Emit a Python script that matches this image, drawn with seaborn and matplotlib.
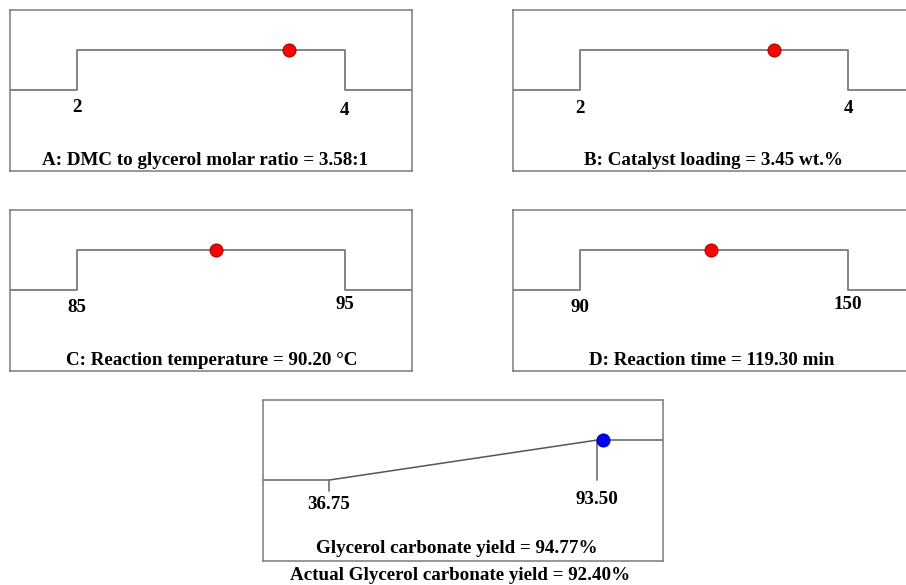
import numpy as np
import pandas as pd
import matplotlib
matplotlib.use("Agg")
import matplotlib.pyplot as plt
import seaborn as sns

sns.set_theme(style="white")
plt.rcParams['font.family'] = ['Liberation Serif', 'DejaVu Serif']
plt.rcParams['text.color'] = 'black'

# ---- data ----
factor_names = ["A: DMC to glycerol molar ratio", "B: Catalyst loading",
                "C: Reaction temperature", "D: Reaction time"]
factor_units = [":1", " wt.%", " \u00b0C", " min"]
factor_low = [2, 2, 85, 90]
factor_high = [4, 4, 95, 150]
factor_opt = [3.58, 3.45, 90.20, 119.30]
factor_low_lbl = ["2", "2", "85", "90"]
factor_high_lbl = ["4", "4", "95", "150"]

resp_name = "Glycerol carbonate yield"
resp_low = 36.75
resp_high = 93.50
resp_pred = 94.77
resp_actual = 92.40

GRAY = "#7a7a7a"
fig = plt.figure(figsize=(9.06, 5.85), dpi=100)
W, H = 906.0, 585.0

def make_ax(x0, y0, x1, y1):
    ax = fig.add_axes([x0 / W, 1 - y1 / H, (x1 - x0) / W, (y1 - y0) / H])
    for s in ax.spines.values():
        s.set_color(GRAY)
        s.set_linewidth(1.1)
    ax.set_xticks([])
    ax.set_yticks([])
    return ax

boxes = [(10, 10, 412, 171), (513, 10, 915, 171),
         (10, 210, 412, 371), (513, 210, 915, 371)]
title_x = [0.485, 0.498, 0.502, 0.495]
low_lbl_dy = [-0.44, -0.45, -0.44, -0.44]
high_lbl_dy = [-0.52, -0.47, -0.35, -0.36]
title_fs = 13.7
tick_fs = 13.7

for i in range(4):
    lo, hi, opt = factor_low[i], factor_high[i], factor_opt[i]
    rng = hi - lo
    xmin, xmax = lo - 0.25 * rng, hi + 0.25 * rng
    ax = make_ax(*boxes[i])
    prof = pd.DataFrame({"x": [xmin, lo, lo, hi, hi, xmax],
                         "y": [0, 0, 1, 1, 0, 0]})
    sns.lineplot(data=prof, x="x", y="y", sort=False, estimator=None,
                 color=GRAY, linewidth=1.3, ax=ax)
    pt = pd.DataFrame({"x": [opt], "y": [1]})
    sns.scatterplot(data=pt, x="x", y="y", color="#ff0000", s=90,
                    edgecolor="#8b0000", linewidth=0.6, ax=ax, zorder=5)
    ax.set_xlim(xmin, xmax)
    ax.set_ylim(-2.02, 2.0)
    ax.set_xlabel("")
    ax.set_ylabel("")
    ax.set_xticks([])
    ax.set_yticks([])
    ax.text(lo, low_lbl_dy[i], factor_low_lbl[i], ha="center", va="center",
            fontsize=tick_fs, fontweight="bold", color="black")
    ax.text(hi, high_lbl_dy[i], factor_high_lbl[i], ha="center", va="center",
            fontsize=tick_fs, fontweight="bold", color="black")
    ax.text(title_x[i], 0.068, f"{factor_names[i]} = {opt:.2f}{factor_units[i]}",
            transform=ax.transAxes, ha="center", va="center",
            fontsize=title_fs, fontweight="bold", color="black")

# response panel
rng = resp_high - resp_low
xmin, xmax = resp_low - 0.245 * rng, resp_high + 0.245 * rng
ax = make_ax(263, 400, 663, 561)
flat_l = pd.DataFrame({"x": [xmin, resp_low], "y": [0, 0]})
ramp = pd.DataFrame({"x": [resp_low, resp_high], "y": [0, 1]})
flat_r = pd.DataFrame({"x": [resp_high, xmax], "y": [1, 1]})
sns.lineplot(data=flat_l, x="x", y="y", color=GRAY, linewidth=1.3, ax=ax)
sns.lineplot(data=ramp, x="x", y="y", color="#555555", linewidth=1.1, ax=ax)
sns.lineplot(data=flat_r, x="x", y="y", color=GRAY, linewidth=1.3, ax=ax)
ax.plot([resp_low, resp_low], [0, -0.27], color=GRAY, linewidth=1.3)
ax.plot([resp_high, resp_high], [1, 0], color=GRAY, linewidth=1.3)
pt = pd.DataFrame({"x": [resp_pred], "y": [1]})
sns.scatterplot(data=pt, x="x", y="y", color="#0000ff", s=90,
                edgecolor="#00008b", linewidth=0.6, ax=ax, zorder=5)
ax.set_xlim(xmin, xmax)
ax.set_ylim(-2.02, 2.0)
ax.set_xlabel("")
ax.set_ylabel("")
ax.set_xticks([])
ax.set_yticks([])
ax.text(resp_low, -0.62, f"{resp_low:.2f}", ha="center", va="center",
        fontsize=tick_fs, fontweight="bold", color="black")
ax.text(resp_high, -0.48, f"{resp_high:.2f}", ha="center", va="center",
        fontsize=tick_fs, fontweight="bold", color="black")
ax.text(0.485, 0.075, f"{resp_name} = {resp_pred:.2f}%", transform=ax.transAxes,
        ha="center", va="center", fontsize=title_fs, fontweight="bold",
        color="black")
fig.text(460 / W, 1 - 576 / H, f"Actual {resp_name} = {resp_actual:.2f}%",
         ha="center", va="center", fontsize=title_fs, fontweight="bold",
         color="black")

fig.savefig("out.png", dpi=100)
